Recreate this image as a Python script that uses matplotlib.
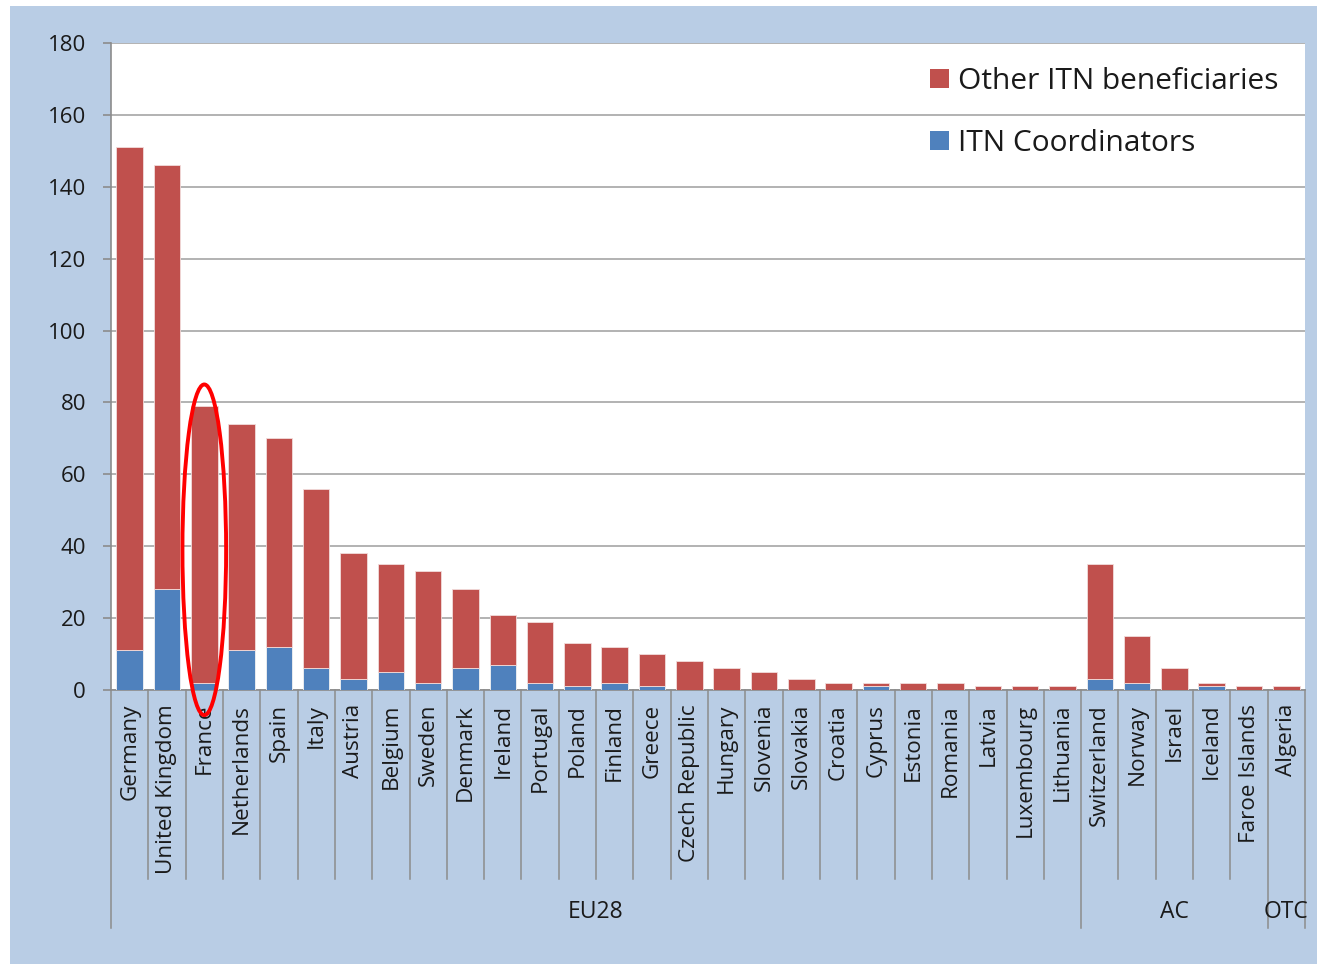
import matplotlib
matplotlib.use("Agg")
import matplotlib.pyplot as plt
from matplotlib.patches import Rectangle, Ellipse, Patch
import numpy as np

countries = ["Germany", "United Kingdom", "France", "Netherlands", "Spain", "Italy",
             "Austria", "Belgium", "Sweden", "Denmark", "Ireland", "Portugal", "Poland",
             "Finland", "Greece", "Czech Republic", "Hungary", "Slovenia", "Slovakia",
             "Croatia", "Cyprus", "Estonia", "Romania", "Latvia", "Luxembourg", "Lithuania",
             "Switzerland", "Norway", "Israel", "Iceland", "Faroe Islands", "Algeria"]
coordinators = [11, 28, 2, 11, 12, 6, 3, 5, 2, 6, 7, 2, 1, 2, 1, 0, 0, 0, 0, 0, 1, 0, 0,
                0, 0, 0, 3, 2, 0, 1, 0, 0]
other_beneficiaries = [140, 118, 77, 63, 58, 50, 35, 30, 31, 22, 14, 17, 12, 10, 9, 8, 6,
                       5, 3, 2, 1, 2, 2, 1, 1, 1, 32, 13, 6, 1, 1, 1]
group_names = ["EU28", "AC", "OTC"]
group_sizes = [26, 5, 1]

RED = "#C0504D"
BLUE = "#4F81BD"
BG = "#B9CDE5"
GRID = "#A6A6A6"
AX = "#8C8C8C"
TXT = "#1A1A1A"
FONT = "Open Sans"

W, H = 1317, 964
fig = plt.figure(figsize=(W / 100, H / 100), dpi=100)
fig.patch.set_facecolor("white")
bgrect = Rectangle((10 / W, 0), 1 - 10 / W, 1 - 6 / H, transform=fig.transFigure,
                   facecolor=BG, edgecolor="none", zorder=-10)
fig.patches.append(bgrect)

L, R, T, B = 111, 1305, 43, 690
ax = fig.add_axes([L / W, 1 - B / H, (R - L) / W, (B - T) / H])
ax.set_zorder(1)
ax.set_facecolor("white")

x = np.arange(len(countries))
ax.bar(x, coordinators, width=0.71, color=BLUE, edgecolor="#F2F2F2", linewidth=0.6,
       zorder=3, label="ITN Coordinators")
ax.bar(x, other_beneficiaries, width=0.71, bottom=coordinators, color=RED,
       edgecolor="#F2DCDB", linewidth=0.6, zorder=3, label="Other ITN beneficiaries")

ax.set_xlim(-0.5, len(countries) - 0.5)
ax.set_ylim(0, 180)
ax.set_yticks(np.arange(0, 181, 20))
ax.yaxis.grid(True, color=GRID, linewidth=1.2, zorder=1)
ax.set_axisbelow(True)
for s in ["top", "right"]:
    ax.spines[s].set_visible(False)
for s in ["left", "bottom"]:
    ax.spines[s].set_color(AX)
    ax.spines[s].set_linewidth(1.2)
ax.tick_params(axis="y", length=6, width=1.2, color=AX, pad=12, labelsize=16,
               labelcolor=TXT)
ax.set_xticks(x)
ax.set_xticklabels(countries, rotation=90, va="top", ha="center")
ax.tick_params(axis="x", length=0, pad=10, labelsize=16.2, labelcolor=TXT)
for lab in ax.get_xticklabels() + ax.get_yticklabels():
    lab.set_fontfamily(FONT)

# multi-level category axis separators
tr = ax.get_xaxis_transform()
short = -(879 - B) / (B - T)
long_ = -(928 - B) / (B - T)
bounds = np.cumsum([0] + group_sizes)
for b in range(len(countries) + 1):
    y1 = long_ if b in bounds else short
    ax.plot([b - 0.5, b - 0.5], [0, y1], transform=tr, color=AX, linewidth=1.1,
            clip_on=False, zorder=2)
gy = -(912 - B) / (B - T)
for name, s0, s1 in zip(group_names, bounds[:-1], bounds[1:]):
    ax.text((s0 + s1 - 1) / 2, gy, name, transform=tr, ha="center", va="center",
            fontsize=16.5, color=TXT, fontfamily=FONT)

# highlight ellipse around France
ax.add_patch(Ellipse((2, 39), 1.17, 92, fill=False, edgecolor="#FF0000", linewidth=2.8,
                     clip_on=False, zorder=6))

handles = [Patch(facecolor=RED, edgecolor="none", label="Other ITN beneficiaries"),
           Patch(facecolor=BLUE, edgecolor="none", label="ITN Coordinators")]
leg = ax.legend(handles=handles, loc="upper left", bbox_to_anchor=(930 / W, 1 - 67 / H),
                bbox_transform=fig.transFigure, frameon=False, borderpad=0,
                borderaxespad=0, handlelength=0.62, handleheight=0.62,
                handletextpad=0.33, labelspacing=1.1,
                prop={"family": FONT, "size": 21.5})
for t in leg.get_texts():
    t.set_color(TXT)

fig.savefig("out.png", dpi=100)
